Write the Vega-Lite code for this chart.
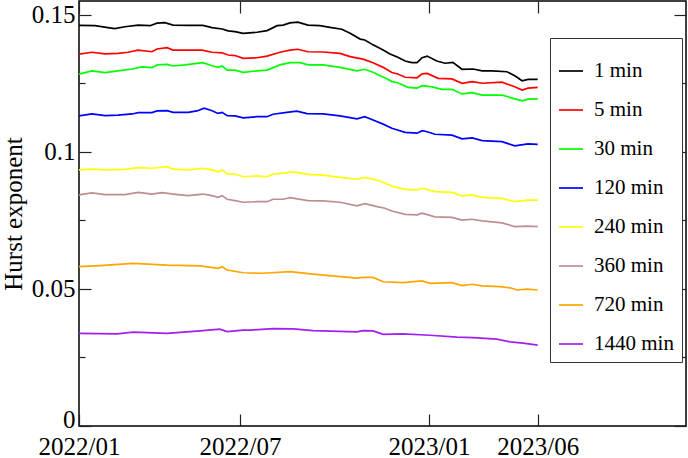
{
"$schema": "https://vega.github.io/schema/vega-lite/v6.json",
"width": 607, "height": 425,
"autosize": "none",
"padding": {"left": 79, "top": 1, "right": 2, "bottom": 32},
"background": "white",
"config": {
  "view": {"stroke": "#000", "strokeWidth": 1.5},
  "axis": {"domain": false, "grid": false, "tickColor": "#222", "tickWidth": 1.2, "labelFont": "Liberation Serif", "labelFontSize": 25, "labelColor": "#000", "titleFont": "Liberation Serif", "titleFontSize": 25, "titleFontWeight": "normal", "titleColor": "#000", "labelOverlap": false, "labelBound": false, "labelFlush": false},
  "legend": {"orient": "none", "legendX": 471, "legendY": 37, "strokeColor": "#333", "fillColor": "white", "padding": 8, "symbolType": "stroke", "symbolSize": 576, "symbolStrokeWidth": 1.7, "labelFont": "Liberation Serif", "labelFontSize": 21, "labelColor": "#000", "labelOffset": 10, "rowPadding": 16, "titleFontSize": 8, "titlePadding": 4}
},
"data": {"values": [
{"s":"1 min","t":0,"v":0.1461},{"s":"1 min","t":3.5,"v":0.1460},{"s":"1 min","t":6.3,"v":0.1453},{"s":"1 min","t":7.8,"v":0.1449},{"s":"1 min","t":10.0,"v":0.1456},{"s":"1 min","t":12.9,"v":0.1462},{"s":"1 min","t":15.5,"v":0.1460},{"s":"1 min","t":17.0,"v":0.1469},{"s":"1 min","t":18.7,"v":0.1471},{"s":"1 min","t":20.5,"v":0.1462},{"s":"1 min","t":23.8,"v":0.1461},{"s":"1 min","t":27.0,"v":0.1461},{"s":"1 min","t":29.0,"v":0.1453},{"s":"1 min","t":31.2,"v":0.1448},{"s":"1 min","t":32.5,"v":0.1441},{"s":"1 min","t":34.0,"v":0.1438},{"s":"1 min","t":35.8,"v":0.1432},{"s":"1 min","t":38.8,"v":0.1436},{"s":"1 min","t":41.0,"v":0.1442},{"s":"1 min","t":43.2,"v":0.1460},{"s":"1 min","t":44.5,"v":0.1462},{"s":"1 min","t":46.0,"v":0.1470},{"s":"1 min","t":47.7,"v":0.1473},{"s":"1 min","t":49.9,"v":0.1462},{"s":"1 min","t":52.5,"v":0.1460},{"s":"1 min","t":54.7,"v":0.1454},{"s":"1 min","t":57.3,"v":0.1447},{"s":"1 min","t":59.1,"v":0.1432},{"s":"1 min","t":61.3,"v":0.1411},{"s":"1 min","t":62.3,"v":0.1408},{"s":"1 min","t":64.1,"v":0.1390},{"s":"1 min","t":66.3,"v":0.1371},{"s":"1 min","t":67.8,"v":0.1357},{"s":"1 min","t":69.5,"v":0.1345},{"s":"1 min","t":71.1,"v":0.1331},{"s":"1 min","t":72.6,"v":0.1325},{"s":"1 min","t":73.7,"v":0.1325},{"s":"1 min","t":74.8,"v":0.1343},{"s":"1 min","t":75.9,"v":0.1349},{"s":"1 min","t":78.0,"v":0.1331},{"s":"1 min","t":79.8,"v":0.1323},{"s":"1 min","t":81.5,"v":0.1326},{"s":"1 min","t":83.5,"v":0.1301},{"s":"1 min","t":85.9,"v":0.1302},{"s":"1 min","t":87.9,"v":0.1295},{"s":"1 min","t":90.0,"v":0.1295},{"s":"1 min","t":93.3,"v":0.1292},{"s":"1 min","t":95.0,"v":0.1277},{"s":"1 min","t":96.6,"v":0.1259},{"s":"1 min","t":97.9,"v":0.1264},{"s":"1 min","t":100,"v":0.1264},
{"s":"5 min","t":0,"v":0.1356},{"s":"5 min","t":2.8,"v":0.1363},{"s":"5 min","t":5.7,"v":0.1357},{"s":"5 min","t":8.5,"v":0.1359},{"s":"5 min","t":10.7,"v":0.1363},{"s":"5 min","t":12.9,"v":0.1371},{"s":"5 min","t":15.9,"v":0.1365},{"s":"5 min","t":17.0,"v":0.1375},{"s":"5 min","t":19.2,"v":0.1380},{"s":"5 min","t":20.5,"v":0.1371},{"s":"5 min","t":23.1,"v":0.1371},{"s":"5 min","t":26.8,"v":0.1371},{"s":"5 min","t":29.0,"v":0.1363},{"s":"5 min","t":31.2,"v":0.1361},{"s":"5 min","t":32.5,"v":0.1353},{"s":"5 min","t":34.0,"v":0.1351},{"s":"5 min","t":35.8,"v":0.1341},{"s":"5 min","t":38.8,"v":0.1343},{"s":"5 min","t":41.0,"v":0.1349},{"s":"5 min","t":43.8,"v":0.1363},{"s":"5 min","t":46.0,"v":0.1371},{"s":"5 min","t":47.7,"v":0.1374},{"s":"5 min","t":49.9,"v":0.1365},{"s":"5 min","t":53.2,"v":0.1364},{"s":"5 min","t":56.9,"v":0.1359},{"s":"5 min","t":59.1,"v":0.1347},{"s":"5 min","t":61.9,"v":0.1338},{"s":"5 min","t":64.1,"v":0.1325},{"s":"5 min","t":66.3,"v":0.1308},{"s":"5 min","t":68.2,"v":0.1289},{"s":"5 min","t":69.5,"v":0.1284},{"s":"5 min","t":71.1,"v":0.1272},{"s":"5 min","t":73.7,"v":0.1270},{"s":"5 min","t":74.8,"v":0.1284},{"s":"5 min","t":75.9,"v":0.1286},{"s":"5 min","t":78.3,"v":0.1268},{"s":"5 min","t":81.3,"v":0.1266},{"s":"5 min","t":83.5,"v":0.1250},{"s":"5 min","t":85.7,"v":0.1256},{"s":"5 min","t":87.9,"v":0.1250},{"s":"5 min","t":92.2,"v":0.1254},{"s":"5 min","t":95.0,"v":0.1237},{"s":"5 min","t":96.6,"v":0.1225},{"s":"5 min","t":97.9,"v":0.1232},{"s":"5 min","t":100,"v":0.1235},
{"s":"30 min","t":0,"v":0.1283},{"s":"30 min","t":2.8,"v":0.1295},{"s":"30 min","t":5.7,"v":0.1289},{"s":"30 min","t":8.5,"v":0.1295},{"s":"30 min","t":11.6,"v":0.1302},{"s":"30 min","t":13.7,"v":0.1310},{"s":"30 min","t":15.9,"v":0.1307},{"s":"30 min","t":17.0,"v":0.1317},{"s":"30 min","t":19.2,"v":0.1319},{"s":"30 min","t":20.5,"v":0.1313},{"s":"30 min","t":23.1,"v":0.1317},{"s":"30 min","t":27.0,"v":0.1325},{"s":"30 min","t":29.0,"v":0.1314},{"s":"30 min","t":30.3,"v":0.1308},{"s":"30 min","t":31.2,"v":0.1313},{"s":"30 min","t":32.3,"v":0.1298},{"s":"30 min","t":34.0,"v":0.1298},{"s":"30 min","t":35.8,"v":0.1290},{"s":"30 min","t":38.8,"v":0.1295},{"s":"30 min","t":41.0,"v":0.1298},{"s":"30 min","t":43.8,"v":0.1317},{"s":"30 min","t":46.0,"v":0.1325},{"s":"30 min","t":48.2,"v":0.1325},{"s":"30 min","t":49.9,"v":0.1317},{"s":"30 min","t":53.2,"v":0.1317},{"s":"30 min","t":56.9,"v":0.1308},{"s":"30 min","t":60.6,"v":0.1295},{"s":"30 min","t":62.3,"v":0.1301},{"s":"30 min","t":64.1,"v":0.1290},{"s":"30 min","t":66.1,"v":0.1274},{"s":"30 min","t":66.7,"v":0.1270},{"s":"30 min","t":68.2,"v":0.1256},{"s":"30 min","t":69.5,"v":0.1252},{"s":"30 min","t":71.7,"v":0.1235},{"s":"30 min","t":73.7,"v":0.1232},{"s":"30 min","t":74.8,"v":0.1241},{"s":"30 min","t":77.0,"v":0.1237},{"s":"30 min","t":79.1,"v":0.1228},{"s":"30 min","t":81.3,"v":0.1228},{"s":"30 min","t":83.5,"v":0.1211},{"s":"30 min","t":85.7,"v":0.1216},{"s":"30 min","t":87.9,"v":0.1207},{"s":"30 min","t":92.2,"v":0.1207},{"s":"30 min","t":94.6,"v":0.1195},{"s":"30 min","t":96.6,"v":0.1186},{"s":"30 min","t":97.9,"v":0.1192},{"s":"30 min","t":100,"v":0.1193},
{"s":"120 min","t":0,"v":0.1131},{"s":"120 min","t":2.8,"v":0.1138},{"s":"120 min","t":5.7,"v":0.1132},{"s":"120 min","t":8.5,"v":0.1134},{"s":"120 min","t":11.6,"v":0.1138},{"s":"120 min","t":12.9,"v":0.1143},{"s":"120 min","t":15.9,"v":0.1143},{"s":"120 min","t":17.0,"v":0.1149},{"s":"120 min","t":19.2,"v":0.1150},{"s":"120 min","t":20.5,"v":0.1144},{"s":"120 min","t":23.8,"v":0.1144},{"s":"120 min","t":25.7,"v":0.1149},{"s":"120 min","t":27.3,"v":0.1159},{"s":"120 min","t":29.0,"v":0.1150},{"s":"120 min","t":30.3,"v":0.1140},{"s":"120 min","t":31.2,"v":0.1144},{"s":"120 min","t":32.3,"v":0.1132},{"s":"120 min","t":34.0,"v":0.1131},{"s":"120 min","t":35.8,"v":0.1124},{"s":"120 min","t":38.8,"v":0.1128},{"s":"120 min","t":41.0,"v":0.1128},{"s":"120 min","t":42.3,"v":0.1137},{"s":"120 min","t":45.3,"v":0.1144},{"s":"120 min","t":47.5,"v":0.1148},{"s":"120 min","t":49.7,"v":0.1139},{"s":"120 min","t":53.2,"v":0.1138},{"s":"120 min","t":56.9,"v":0.1131},{"s":"120 min","t":60.6,"v":0.1120},{"s":"120 min","t":62.3,"v":0.1128},{"s":"120 min","t":64.1,"v":0.1116},{"s":"120 min","t":66.3,"v":0.1101},{"s":"120 min","t":68.2,"v":0.1086},{"s":"120 min","t":71.1,"v":0.1071},{"s":"120 min","t":73.7,"v":0.1068},{"s":"120 min","t":74.8,"v":0.1077},{"s":"120 min","t":75.9,"v":0.1073},{"s":"120 min","t":77.6,"v":0.1064},{"s":"120 min","t":81.3,"v":0.1061},{"s":"120 min","t":83.5,"v":0.1047},{"s":"120 min","t":85.7,"v":0.1051},{"s":"120 min","t":87.9,"v":0.1041},{"s":"120 min","t":92.2,"v":0.1037},{"s":"120 min","t":95.0,"v":0.1022},{"s":"120 min","t":97.9,"v":0.1029},{"s":"120 min","t":100,"v":0.1027},
{"s":"240 min","t":0,"v":0.0934},{"s":"240 min","t":2.8,"v":0.0937},{"s":"240 min","t":5.7,"v":0.0934},{"s":"240 min","t":10.0,"v":0.0936},{"s":"240 min","t":12.9,"v":0.0942},{"s":"240 min","t":15.9,"v":0.0940},{"s":"240 min","t":19.2,"v":0.0946},{"s":"240 min","t":20.5,"v":0.0937},{"s":"240 min","t":23.8,"v":0.0934},{"s":"240 min","t":27.0,"v":0.0940},{"s":"240 min","t":29.0,"v":0.0934},{"s":"240 min","t":30.3,"v":0.0927},{"s":"240 min","t":31.2,"v":0.0934},{"s":"240 min","t":32.3,"v":0.0919},{"s":"240 min","t":34.0,"v":0.0919},{"s":"240 min","t":35.8,"v":0.0909},{"s":"240 min","t":38.8,"v":0.0912},{"s":"240 min","t":41.0,"v":0.0909},{"s":"240 min","t":42.3,"v":0.0919},{"s":"240 min","t":44.5,"v":0.0922},{"s":"240 min","t":46.7,"v":0.0927},{"s":"240 min","t":49.9,"v":0.0918},{"s":"240 min","t":53.2,"v":0.0915},{"s":"240 min","t":56.9,"v":0.0907},{"s":"240 min","t":60.6,"v":0.0900},{"s":"240 min","t":62.3,"v":0.0907},{"s":"240 min","t":65.0,"v":0.0897},{"s":"240 min","t":66.7,"v":0.0885},{"s":"240 min","t":68.2,"v":0.0875},{"s":"240 min","t":71.1,"v":0.0863},{"s":"240 min","t":73.7,"v":0.0861},{"s":"240 min","t":74.8,"v":0.0867},{"s":"240 min","t":77.6,"v":0.0855},{"s":"240 min","t":81.3,"v":0.0852},{"s":"240 min","t":83.5,"v":0.0839},{"s":"240 min","t":85.7,"v":0.0843},{"s":"240 min","t":87.9,"v":0.0834},{"s":"240 min","t":92.2,"v":0.0830},{"s":"240 min","t":95.0,"v":0.0818},{"s":"240 min","t":97.9,"v":0.0824},{"s":"240 min","t":100,"v":0.0824},
{"s":"360 min","t":0,"v":0.0843},{"s":"360 min","t":2.8,"v":0.0850},{"s":"360 min","t":5.7,"v":0.0844},{"s":"360 min","t":10.0,"v":0.0844},{"s":"360 min","t":12.9,"v":0.0852},{"s":"360 min","t":15.9,"v":0.0846},{"s":"360 min","t":18.1,"v":0.0851},{"s":"360 min","t":20.5,"v":0.0846},{"s":"360 min","t":23.8,"v":0.0840},{"s":"360 min","t":27.0,"v":0.0846},{"s":"360 min","t":29.0,"v":0.0840},{"s":"360 min","t":30.3,"v":0.0834},{"s":"360 min","t":31.2,"v":0.0840},{"s":"360 min","t":32.3,"v":0.0827},{"s":"360 min","t":34.0,"v":0.0822},{"s":"360 min","t":35.8,"v":0.0816},{"s":"360 min","t":38.8,"v":0.0818},{"s":"360 min","t":41.0,"v":0.0818},{"s":"360 min","t":42.3,"v":0.0827},{"s":"360 min","t":44.5,"v":0.0827},{"s":"360 min","t":46.0,"v":0.0833},{"s":"360 min","t":49.9,"v":0.0822},{"s":"360 min","t":53.2,"v":0.0821},{"s":"360 min","t":56.9,"v":0.0816},{"s":"360 min","t":60.6,"v":0.0803},{"s":"360 min","t":62.3,"v":0.0811},{"s":"360 min","t":65.0,"v":0.0800},{"s":"360 min","t":66.7,"v":0.0794},{"s":"360 min","t":68.2,"v":0.0784},{"s":"360 min","t":71.1,"v":0.0772},{"s":"360 min","t":73.7,"v":0.0770},{"s":"360 min","t":74.8,"v":0.0776},{"s":"360 min","t":77.6,"v":0.0763},{"s":"360 min","t":81.3,"v":0.0761},{"s":"360 min","t":83.5,"v":0.0751},{"s":"360 min","t":85.7,"v":0.0754},{"s":"360 min","t":87.9,"v":0.0748},{"s":"360 min","t":92.2,"v":0.0741},{"s":"360 min","t":95.0,"v":0.0727},{"s":"360 min","t":97.9,"v":0.0729},{"s":"360 min","t":100,"v":0.0727},
{"s":"720 min","t":0,"v":0.0581},{"s":"720 min","t":4.6,"v":0.0585},{"s":"720 min","t":11.8,"v":0.0593},{"s":"720 min","t":19.2,"v":0.0587},{"s":"720 min","t":26.4,"v":0.0584},{"s":"720 min","t":30.3,"v":0.0575},{"s":"720 min","t":31.2,"v":0.0581},{"s":"720 min","t":32.3,"v":0.0569},{"s":"720 min","t":35.8,"v":0.0559},{"s":"720 min","t":40.1,"v":0.0557},{"s":"720 min","t":46.0,"v":0.0563},{"s":"720 min","t":51.0,"v":0.0554},{"s":"720 min","t":60.6,"v":0.0539},{"s":"720 min","t":61.9,"v":0.0542},{"s":"720 min","t":64.1,"v":0.0542},{"s":"720 min","t":66.3,"v":0.0526},{"s":"720 min","t":70.6,"v":0.0523},{"s":"720 min","t":74.8,"v":0.0529},{"s":"720 min","t":76.5,"v":0.0520},{"s":"720 min","t":81.3,"v":0.0523},{"s":"720 min","t":83.5,"v":0.0512},{"s":"720 min","t":85.7,"v":0.0517},{"s":"720 min","t":87.9,"v":0.0511},{"s":"720 min","t":91.8,"v":0.0508},{"s":"720 min","t":94.0,"v":0.0504},{"s":"720 min","t":95.5,"v":0.0496},{"s":"720 min","t":97.7,"v":0.0499},{"s":"720 min","t":100,"v":0.0496},
{"s":"1440 min","t":0,"v":0.0338},{"s":"1440 min","t":8.3,"v":0.0336},{"s":"1440 min","t":11.8,"v":0.0342},{"s":"1440 min","t":19.2,"v":0.0338},{"s":"1440 min","t":26.4,"v":0.0347},{"s":"1440 min","t":30.7,"v":0.0353},{"s":"1440 min","t":32.3,"v":0.0344},{"s":"1440 min","t":35.8,"v":0.0350},{"s":"1440 min","t":37.3,"v":0.0350},{"s":"1440 min","t":42.3,"v":0.0355},{"s":"1440 min","t":46.7,"v":0.0354},{"s":"1440 min","t":51.0,"v":0.0348},{"s":"1440 min","t":60.6,"v":0.0343},{"s":"1440 min","t":61.9,"v":0.0348},{"s":"1440 min","t":64.1,"v":0.0347},{"s":"1440 min","t":66.3,"v":0.0334},{"s":"1440 min","t":70.6,"v":0.0336},{"s":"1440 min","t":76.5,"v":0.0331},{"s":"1440 min","t":82.4,"v":0.0324},{"s":"1440 min","t":85.9,"v":0.0322},{"s":"1440 min","t":91.1,"v":0.0317},{"s":"1440 min","t":94.0,"v":0.0307},{"s":"1440 min","t":96.8,"v":0.0302},{"s":"1440 min","t":100,"v":0.0295}
]},
"layer": [
 {"mark": {"type": "line", "strokeWidth": 1.7, "clip": true},
  "encoding": {
   "x": {"field": "t", "type": "quantitative", "scale": {"domain": [0, 132.33], "nice": false, "zero": false},
     "axis": {"orient": "bottom", "title": null, "values": [0, 35.1, 76.3, 100], "labelExpr": "datum.value == 0 ? '2022/01' : datum.value == 35.1 ? '2022/07' : datum.value == 76.3 ? '2023/01' : '2023/06'", "tickSize": -12, "labelPadding": 20, "labelBaseline": "top", "labelAlign": "center"}},
   "y": {"field": "v", "type": "quantitative", "scale": {"domain": [0, 0.155], "nice": false, "zero": false},
     "axis": {"orient": "left", "title": "Hurst exponent", "titlePadding": 5, "values": [0, 0.025, 0.05, 0.075, 0.1, 0.125, 0.15], "labelExpr": "round(datum.value*1000) % 50 == 0 ? format(datum.value, '.2~f') : ''", "tickSize": {"condition": {"test": "round(datum.value*1000) % 50 != 0", "value": -6}, "value": -12}, "labelOffset": {"condition": {"test": "datum.value == 0", "value": -7}, "value": 0}, "labelPadding": 16, "labelBaseline": "middle", "labelAlign": "right"}},
   "color": {"field": "s", "type": "nominal",
     "scale": {"domain": ["1 min", "5 min", "30 min", "120 min", "240 min", "360 min", "720 min", "1440 min"], "range": ["#000000", "#ff0000", "#00ff00", "#0000ff", "#ffff00", "#bc8f8f", "#ffa500", "#a020f0"]},
     "legend": {"title": " "}}
  }},
 {"mark": {"type": "line", "opacity": 0},
  "encoding": {
   "x": {"field": "t", "type": "quantitative", "scale": {"domain": [0, 132.33], "nice": false, "zero": false},
     "axis": {"orient": "top", "title": null, "labels": false, "values": [0, 35.1, 76.3, 100], "tickSize": -12}},
   "y": {"field": "v", "type": "quantitative", "scale": {"domain": [0, 0.155], "nice": false, "zero": false},
     "axis": {"orient": "right", "title": null, "labels": false, "values": [0, 0.025, 0.05, 0.075, 0.1, 0.125, 0.15], "tickSize": {"condition": {"test": "round(datum.value*1000) % 50 != 0", "value": -6}, "value": -12}}},
   "detail": {"field": "s", "type": "nominal"}
  }}
],
"resolve": {"scale": {"x": "independent", "y": "independent"}, "axis": {"x": "independent", "y": "independent"}}
}
